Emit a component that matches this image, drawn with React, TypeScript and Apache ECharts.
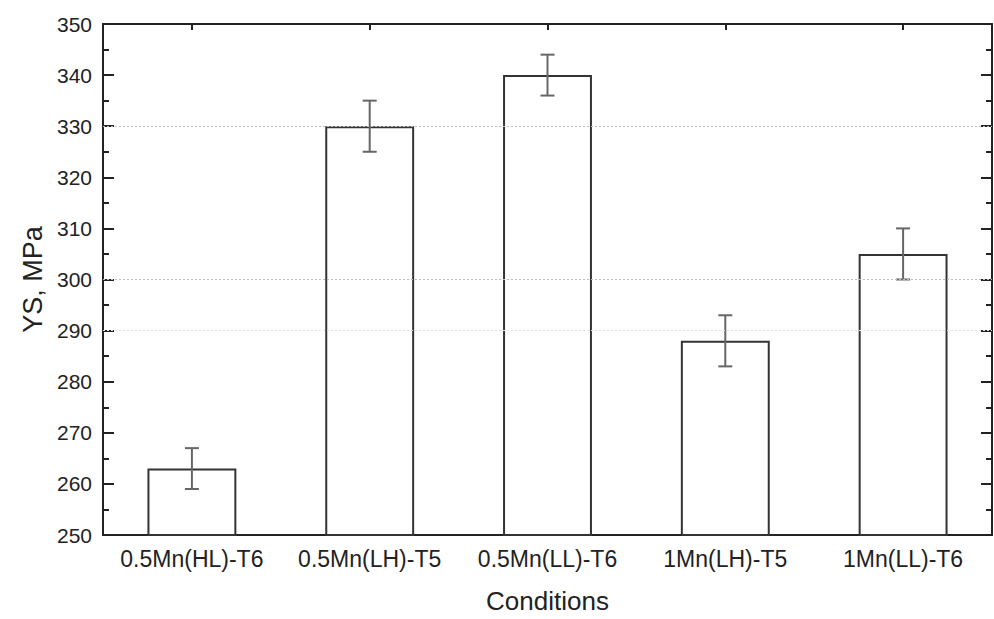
import React, { useEffect, useRef } from "react";
import * as echarts from "echarts";

const categories = ["0.5Mn(HL)-T6", "0.5Mn(LH)-T5", "0.5Mn(LL)-T6", "1Mn(LH)-T5", "1Mn(LL)-T6"];
const ysValues = [263, 330, 340, 288, 305];
const ysErrors = [4, 5, 4, 5, 5];
const gridValues = [330, 300];
const faintGridValues = [290];

export default function App() {
  const ref = useRef<HTMLDivElement>(null);
  useEffect(() => {
    if (!ref.current) return;
    const chart = echarts.init(ref.current, null, { renderer: "svg" });
    const font = "Liberation Sans, Arial, sans-serif";
    const errData = ysValues.map((v, i) => [i, v - ysErrors[i], v + ysErrors[i]]);
    chart.setOption({
      animation: false,
      backgroundColor: "#ffffff",
      grid: { left: 103, right: 2, top: 24, height: 515, containLabel: false },
      xAxis: [
        {
          type: "category",
          data: categories,
          position: "bottom",
          boundaryGap: true,
          name: "Conditions",
          nameLocation: "middle",
          nameGap: 53,
          nameTextStyle: { fontFamily: font, fontSize: 26, color: "#222" },
          axisLine: { lineStyle: { color: "#222", width: 2 } },
          axisTick: { show: true, inside: true, alignWithLabel: true, interval: 0, length: 6, lineStyle: { color: "#222", width: 2 } },
          axisLabel: { interval: 0, hideOverlap: false, fontFamily: font, fontSize: 23, color: "#222", margin: 12 },
          splitLine: { show: false },
        },
        {
          type: "category",
          data: categories,
          position: "top",
          boundaryGap: true,
          axisLine: { lineStyle: { color: "#222", width: 2 } },
          axisTick: { show: true, inside: true, alignWithLabel: true, interval: 0, length: 6, lineStyle: { color: "#222", width: 2 } },
          axisLabel: { show: false, interval: 0 },
          splitLine: { show: false },
        },
      ],
      yAxis: [
        {
          type: "value",
          min: 250,
          max: 350,
          interval: 10,
          position: "left",
          name: "YS, MPa",
          nameLocation: "middle",
          nameGap: 54,
          nameRotate: 90,
          nameTextStyle: { fontFamily: font, fontSize: 27, color: "#222" },
          axisLine: { show: true, lineStyle: { color: "#222", width: 2 } },
          axisTick: { show: true, inside: true, length: 11, lineStyle: { color: "#222", width: 2 } },
          minorTick: { show: true, splitNumber: 2, length: 6, lineStyle: { color: "#222", width: 2 } },
          axisLabel: { fontFamily: font, fontSize: 21, color: "#222", margin: 11 },
          splitLine: { show: false },
        },
        {
          type: "value",
          min: 250,
          max: 350,
          interval: 10,
          position: "right",
          axisLine: { show: true, lineStyle: { color: "#222", width: 2 } },
          axisTick: { show: true, inside: true, length: 11, lineStyle: { color: "#222", width: 2 } },
          minorTick: { show: true, splitNumber: 2, length: 6, lineStyle: { color: "#222", width: 2 } },
          axisLabel: { show: false },
          splitLine: { show: false },
        },
      ],
      series: [
        {
          type: "bar",
          data: ysValues,
          barWidth: "50%",
          itemStyle: { color: "#ffffff", borderColor: "#333", borderWidth: 2 },
          markLine: {
            silent: true,
            symbol: "none",
            label: { show: false },
            data: [
              ...gridValues.map((v) => ({ yAxis: v, lineStyle: { color: "#bbbbbb", type: [2, 2], width: 1 } })),
              ...faintGridValues.map((v) => ({ yAxis: v, lineStyle: { color: "#e2e2e2", type: [2, 2], width: 1 } })),
            ],
          },
          z: 2,
        },
        {
          type: "custom",
          data: errData,
          z: 3,
          renderItem: (params: any, api: any) => {
            const idx = api.value(0);
            const lo = api.coord([idx, api.value(1)]);
            const hi = api.coord([idx, api.value(2)]);
            const cap = 7;
            const style = { stroke: "#666", lineWidth: 2 };
            return {
              type: "group",
              children: [
                { type: "line", shape: { x1: hi[0], y1: hi[1], x2: lo[0], y2: lo[1] }, style },
                { type: "line", shape: { x1: hi[0] - cap, y1: hi[1], x2: hi[0] + cap, y2: hi[1] }, style },
                { type: "line", shape: { x1: lo[0] - cap, y1: lo[1], x2: lo[0] + cap, y2: lo[1] }, style },
              ],
            };
          },
        },
      ],
    });
    return () => chart.dispose();
  }, []);
  return <div ref={ref} style={{ width: 994, height: 619, position: "absolute", left: 0, top: 0 }} />;
}
